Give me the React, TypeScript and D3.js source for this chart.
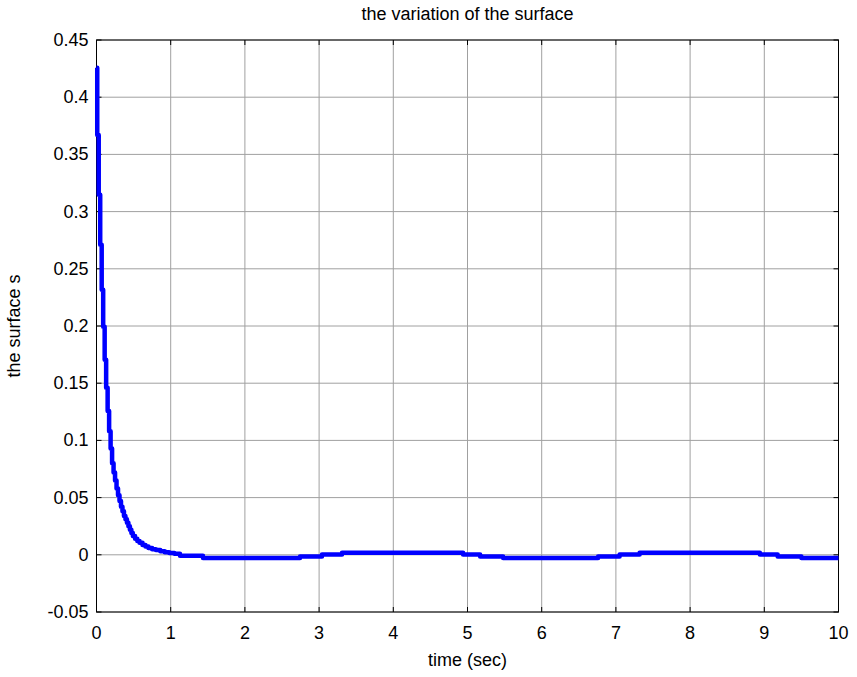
import React from "react";
import * as d3 from "d3";

const title = "the variation of the surface";
const xLabel = "time (sec)";
const yLabel = "the surface s";

const xTicks = [0, 1, 2, 3, 4, 5, 6, 7, 8, 9, 10];
const yTicks = [-0.05, 0, 0.05, 0.1, 0.15, 0.2, 0.25, 0.3, 0.35, 0.4, 0.45];
const yTickLabels = ["-0.05", "0", "0.05", "0.1", "0.15", "0.2", "0.25", "0.3", "0.35", "0.4", "0.45"];

const timeSec = [
  0, 0.01, 0.03, 0.05, 0.07, 0.09, 0.11, 0.13, 0.15, 0.17, 0.19, 0.21, 0.23, 0.25, 0.27, 0.29,
  0.31, 0.33, 0.35, 0.37, 0.39, 0.41, 0.43, 0.45, 0.47, 0.49, 0.52, 0.55, 0.58, 0.62, 0.66, 0.7,
  0.75, 0.8, 0.86, 0.92, 0.98, 1.05, 1.125, 1.435, 2.743, 3.039, 3.309, 4.94, 5.17, 5.48, 6.76,
  7.05, 7.32, 8.94, 9.18, 9.5, 10,
];
const surfaceS = [
  0.4257, 0.367, 0.3147, 0.271, 0.2316, 0.1993, 0.1705, 0.146, 0.1256, 0.108, 0.093, 0.08, 0.072,
  0.065, 0.058, 0.052, 0.047, 0.042, 0.038, 0.034, 0.031, 0.028, 0.025, 0.022, 0.019, 0.0165,
  0.014, 0.012, 0.0105, 0.0085, 0.0072, 0.006, 0.0048, 0.0041, 0.0032, 0.0022, 0.0015, 0.0009,
  -0.0009, -0.0029, -0.0014, 0.0002, 0.0017, 0.0002, -0.0014, -0.0029, -0.0014, 0.0002, 0.0017,
  0.0002, -0.0014, -0.0029, -0.0029,
];

const W = 857;
const H = 677;
const L = 96.5;
const R = 838.5;
const T = 40;
const B = 612;
const FONT = "'Liberation Sans', Arial, sans-serif";
const FS = 18;

export default function App() {
  const x = d3.scaleLinear().domain([0, 10]).range([L, R]);
  const y = d3.scaleLinear().domain([-0.05, 0.45]).range([B, T]);
  const pts = timeSec.map((t, i) => [t, surfaceS[i]] as [number, number]);
  const line = d3
    .line<[number, number]>()
    .x((d) => x(d[0]))
    .y((d) => y(d[1]))
    .curve(d3.curveStepAfter);
  const tl = 5;
  return (
    <svg
      width={W}
      height={H}
      style={{ position: "fixed", left: 0, top: 0, background: "#fff" }}
      fontFamily={FONT}
    >
      <rect x={0} y={0} width={W} height={H} fill="#fff" />
      {xTicks.map((t) => (
        <line key={"gx" + t} x1={x(t)} x2={x(t)} y1={T} y2={B} stroke="#a0a0a0" strokeWidth={1} />
      ))}
      {yTicks.map((t) => (
        <line key={"gy" + t} x1={L} x2={R} y1={y(t)} y2={y(t)} stroke="#a0a0a0" strokeWidth={1} />
      ))}
      <rect x={L} y={T} width={R - L} height={B - T} fill="none" stroke="#000" strokeWidth={1} />
      {xTicks.map((t) => (
        <g key={"tx" + t}>
          <line x1={x(t)} x2={x(t)} y1={B} y2={B - tl} stroke="#000" />
          <line x1={x(t)} x2={x(t)} y1={T} y2={T + tl} stroke="#000" />
          <text x={x(t)} y={B + 27} fontSize={FS} textAnchor="middle" fill="#000">
            {t}
          </text>
        </g>
      ))}
      {yTicks.map((t, i) => (
        <g key={"ty" + t}>
          <line x1={L} x2={L + tl} y1={y(t)} y2={y(t)} stroke="#000" />
          <line x1={R} x2={R - tl} y1={y(t)} y2={y(t)} stroke="#000" />
          <text x={L - 8} y={y(t) + 6} fontSize={FS} textAnchor="end" fill="#000">
            {yTickLabels[i]}
          </text>
        </g>
      ))}
      <path d={line(pts) || ""} fill="none" stroke="#0000ff" strokeWidth={4.5} strokeLinejoin="round" />
      <text x={(L + R) / 2} y={20} fontSize={FS} textAnchor="middle" fill="#000">
        {title}
      </text>
      <text x={(L + R) / 2} y={B + 54} fontSize={FS} textAnchor="middle" fill="#000">
        {xLabel}
      </text>
      <text
        transform={`translate(20,${(T + B) / 2}) rotate(-90)`}
        fontSize={FS}
        textAnchor="middle"
        fill="#000"
      >
        {yLabel}
      </text>
    </svg>
  );
}
